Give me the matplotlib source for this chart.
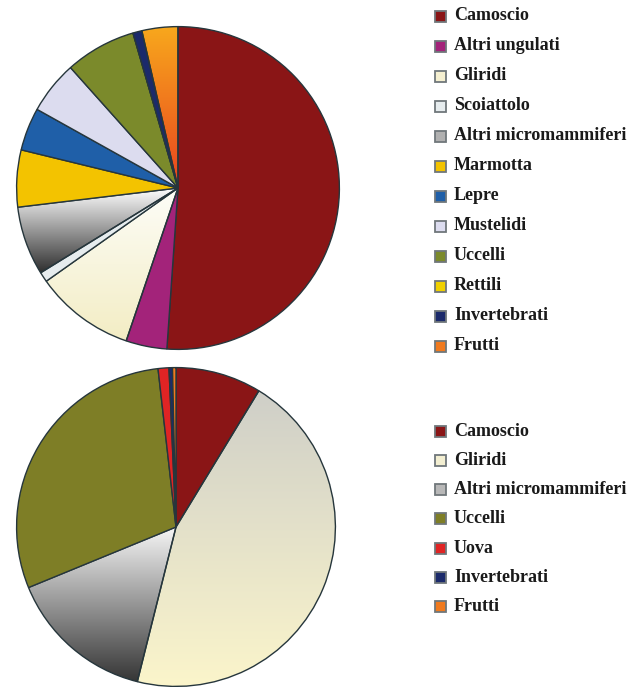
import numpy as np
import matplotlib.pyplot as plt
from matplotlib.patches import Rectangle
from matplotlib.colors import LinearSegmentedColormap

W, H = 636, 687

top_labels = ["Camoscio", "Altri ungulati", "Gliridi", "Scoiattolo",
              "Altri micromammiferi", "Marmotta", "Lepre", "Mustelidi",
              "Uccelli", "Rettili", "Invertebrati", "Frutti"]
top_values = [51.1, 4.1, 10.0, 1.0, 6.9, 5.7, 4.3, 5.3, 7.1, 0.0, 0.9, 3.6]
top_colors = ["#8a1516", "#a3237a", "#f4efd0", "#e6ecee", "#b0b0b0", "#f3c300",
              "#1f5fa8", "#dcdcef", "#7b8a2b", "#f0d000", "#1b2a6b", "#f07a1e"]

bottom_labels = ["Camoscio", "Gliridi", "Altri micromammiferi", "Uccelli",
                 "Uova", "Invertebrati", "Frutti"]
bottom_values = [8.7, 45.2, 14.9, 29.4, 1.1, 0.35, 0.35]
bottom_colors = ["#8a1516", "#f3efd2", "#b8b8b8", "#7e7e26", "#e02424",
                 "#1b2a6b", "#f07a1e"]

# vertical shading for some slices (top colour, bottom colour)
top_shade = {"Gliridi": ("#fdfdf8", "#f3edc4"),
             "Altri micromammiferi": ("#ffffff", "#2e2e2e"),
             "Frutti": ("#f8a81c", "#e8431f")}
bottom_shade = {"Gliridi": ("#cfcfc8", "#fbf5cb"),
                "Altri micromammiferi": ("#f6f6f6", "#353535")}

EDGE = "#26363c"


def shade(ax, wedge, c1, c2):
    cx, cy = wedge.center
    t = np.radians(np.linspace(wedge.theta1, wedge.theta2, 100))
    xs = np.r_[cx, cx + wedge.r * np.cos(t)]
    ys = np.r_[cy, cy + wedge.r * np.sin(t)]
    cmap = LinearSegmentedColormap.from_list("g", [c1, c2])
    grad = np.linspace(0, 1, 256).reshape(-1, 1)
    im = ax.imshow(grad, cmap=cmap, aspect="auto", origin="upper",
                   extent=[xs.min(), xs.max(), ys.min(), ys.max()], zorder=0.5)
    im.set_clip_path(wedge)
    wedge.set_facecolor("none")


def draw_pie(cx, cy, r, values, labels, colors, shades):
    ax = fig.add_axes([(cx - r) / W, 1 - (cy + r) / H, 2 * r / W, 2 * r / H])
    wedges, _ = ax.pie(values, colors=colors, startangle=90, counterclock=False,
                       radius=1, wedgeprops=dict(edgecolor=EDGE, linewidth=1.0))
    for w, lab in zip(wedges, labels):
        if lab in shades:
            shade(ax, w, *shades[lab])
    ax.set_xlim(-1.01, 1.01)
    ax.set_ylim(-1.01, 1.01)
    ax.set_aspect("equal")
    ax.axis("off")


def draw_legend(labels, colors, y0, dy):
    for i, (lab, col) in enumerate(zip(labels, colors)):
        y = y0 + i * dy
        s = 11
        fig.patches.append(Rectangle(((440 - s / 2) / W, 1 - (y + s / 2) / H),
                                     s / W, s / H, transform=fig.transFigure,
                                     facecolor=col, edgecolor="#70777b",
                                     linewidth=1.3))
        fig.text(454 / W, 1 - y / H, lab, ha="left", va="center",
                 fontsize=13, fontweight="bold", family="Liberation Serif",
                 color="#1a1a1a")


fig = plt.figure(figsize=(W / 100, H / 100), dpi=100)

draw_pie(178, 188, 163, top_values, top_labels, top_colors, top_shade)
draw_pie(176, 527, 161, bottom_values, bottom_labels, bottom_colors, bottom_shade)

draw_legend(top_labels, top_colors, 16, 30.0)
draw_legend(bottom_labels, bottom_colors, 431, 29.3)

fig.savefig("out.png", dpi=100)
